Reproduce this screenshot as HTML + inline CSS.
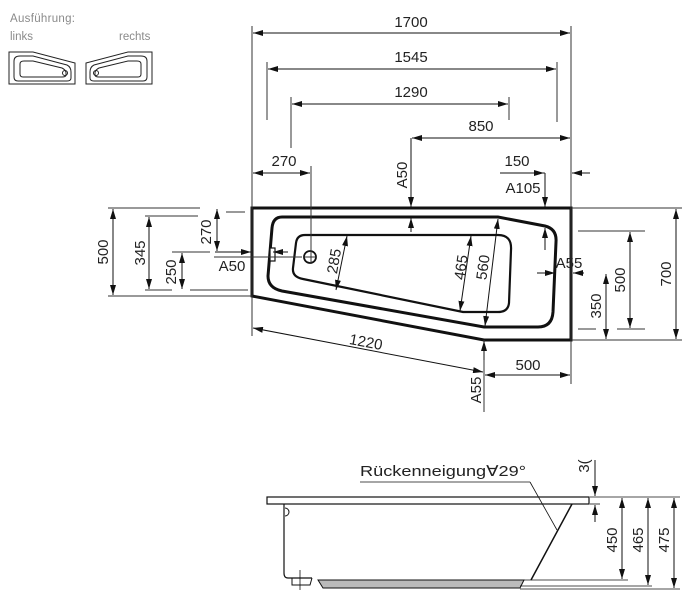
<!DOCTYPE html>
<html><head><meta charset="utf-8"><style>
html,body{margin:0;padding:0;background:#fff;width:694px;height:604px;overflow:hidden}
svg{display:block}
text{font-family:"Liberation Sans",sans-serif;fill:#222}
</style></head><body>
<svg width="694" height="604" viewBox="0 0 694 604" xmlns="http://www.w3.org/2000/svg">
<defs>
<marker id="a" viewBox="0 0 10 6" refX="10" refY="3" markerWidth="10" markerHeight="6" markerUnits="userSpaceOnUse" orient="auto-start-reverse"><path d="M0,0L10,3L0,6z" fill="#111"/></marker>
</defs>
<!-- legend -->
<g font-size="11.5">
<text x="10" y="22" style="fill:#8a8a8a" textLength="65">Ausführung:</text>
<text x="10" y="40" style="fill:#8a8a8a">links</text>
<text x="119" y="40" style="fill:#8a8a8a">rechts</text>
</g>
<g fill="none" stroke="#222" stroke-width="1">
<path d="M9,52H33L75,63V84H9Z"/>
<path d="M20,56H33L67,65Q71,67 71,72V78Q71,81 67,81H18Q14,81 14,77V61Q14,56 20,56Z"/>
<path d="M24,61H33L62,68Q66,70 66,73V75Q66,77 62,77H23Q20,77 20,74V64Q20,61 24,61Z"/>
<circle cx="65" cy="73" r="2.5"/>
<path d="M152,52H128L86,63V84H152Z"/>
<path d="M141,56H128L94,65Q90,67 90,72V78Q90,81 94,81H143Q147,81 147,77V61Q147,56 141,56Z"/>
<path d="M137,61H128L99,68Q95,70 95,73V75Q95,77 99,77H138Q141,77 141,74V64Q141,61 137,61Z"/>
<circle cx="96" cy="73" r="2.5"/>
</g>

<!-- top view shapes -->
<g fill="none" stroke="#111">
<path d="M252,208H571V340H484L252,296Z" stroke-width="3"/>
<path d="M282,217H498L545,226Q557,229 556,242L553,312Q552,327 538,327H484L282,291Q268,288 268,276L272,228Q273,217 282,217Z" stroke-width="3"/>
<path d="M305,235H498Q512,235 511,250L509,303Q508,312 498,312H463L303,279Q292,277 293,268L296,243Q297,235 305,235Z" stroke-width="2.2"/>
<circle cx="310" cy="257" r="6" stroke-width="1.8"/>
<rect x="270" y="248" width="5" height="13" stroke-width="1.2" fill="#fff"/>
</g>

<!-- thin lines -->
<g stroke="#333" stroke-width="1" fill="none">
<line x1="252" y1="26" x2="252" y2="336"/>
<line x1="571" y1="26" x2="571" y2="384"/>
<line x1="267" y1="62" x2="267" y2="120"/>
<line x1="557" y1="62" x2="557" y2="122"/>
<line x1="291" y1="97" x2="291" y2="148"/>
<line x1="509" y1="97" x2="509" y2="120"/>
<line x1="311" y1="166" x2="311" y2="264"/>
<line x1="304" y1="257" x2="317" y2="257"/>
<line x1="108" y1="208" x2="200" y2="208"/><line x1="226" y1="212" x2="245" y2="212"/>
<line x1="108" y1="296" x2="252" y2="296"/>
<line x1="145" y1="216" x2="198" y2="216"/>
<line x1="145" y1="290" x2="172" y2="290"/><line x1="190" y1="290" x2="248" y2="290"/>
<line x1="172" y1="252" x2="210" y2="252"/>
<line x1="214" y1="257" x2="302" y2="257"/>
<line x1="572" y1="208" x2="682" y2="208"/>
<line x1="572" y1="340" x2="682" y2="340"/>
<line x1="578" y1="231" x2="645" y2="231"/>
<line x1="578" y1="329" x2="596" y2="329"/><line x1="617" y1="329" x2="645" y2="329"/>
<line x1="484" y1="340" x2="484" y2="412"/>
<line x1="500" y1="173" x2="545" y2="173"/>
</g>
<g stroke="#111" stroke-width="1" fill="none" marker-start="url(#a)" marker-end="url(#a)">
<line x1="253" y1="33" x2="570" y2="33"/>
<line x1="268" y1="69" x2="556" y2="69"/>
<line x1="292" y1="104" x2="508" y2="104"/>
<line x1="412" y1="138" x2="570" y2="138"/>
<line x1="253" y1="173" x2="310" y2="173"/>
<line x1="113" y1="209" x2="113" y2="295"/>
<line x1="149" y1="217" x2="149" y2="289"/>
<line x1="217" y1="209" x2="217" y2="251"/>
<line x1="182" y1="253" x2="182" y2="289"/>
<line x1="676" y1="209" x2="676" y2="339"/>
<line x1="630" y1="232" x2="630" y2="328"/>
<line x1="606" y1="274" x2="606" y2="339"/>
<line x1="485" y1="375" x2="570" y2="375"/>
<line x1="253" y1="328" x2="483" y2="372"/>
<line x1="498" y1="219" x2="485" y2="326"/>
<line x1="471" y1="236" x2="460" y2="311"/>
<line x1="347" y1="236" x2="336" y2="290"/>
</g>
<g stroke="#111" stroke-width="1" fill="none" marker-end="url(#a)">
<line x1="411" y1="138" x2="411" y2="207"/>
<line x1="411" y1="232" x2="411" y2="218"/>
<line x1="545" y1="173" x2="545" y2="207"/>
<line x1="545" y1="250" x2="545" y2="228"/>
<line x1="500" y1="173" x2="544" y2="173"/>
<line x1="590" y1="173" x2="572" y2="173"/>
<line x1="537" y1="273" x2="555" y2="273"/>
<line x1="584" y1="273" x2="573" y2="273"/>
<line x1="215" y1="252" x2="251" y2="252"/>
<line x1="288" y1="252" x2="273" y2="252"/>
<line x1="484" y1="360" x2="484" y2="341"/>
</g>

<!-- labels -->
<g font-size="15">
<text x="411" y="27" text-anchor="middle">1700</text>
<text x="411" y="62" text-anchor="middle">1545</text>
<text x="411" y="97" text-anchor="middle">1290</text>
<text x="481" y="131" text-anchor="middle">850</text>
<text x="284" y="166" text-anchor="middle">270</text>
<text x="517" y="166" text-anchor="middle">150</text>
<text x="523" y="193" text-anchor="middle">A105</text>
<text x="232" y="271" text-anchor="middle">A50</text>
<text x="569" y="268" text-anchor="middle">A55</text>
<text x="528" y="370" text-anchor="middle">500</text>
<text transform="translate(407,175) rotate(-90)" text-anchor="middle">A50</text>
<text transform="translate(108,252) rotate(-90)" text-anchor="middle">500</text>
<text transform="translate(145,253) rotate(-90)" text-anchor="middle">345</text>
<text transform="translate(211,232) rotate(-90)" text-anchor="middle">270</text>
<text transform="translate(176,272) rotate(-90)" text-anchor="middle">250</text>
<text transform="translate(671,274) rotate(-90)" text-anchor="middle">700</text>
<text transform="translate(625,280) rotate(-90)" text-anchor="middle">500</text>
<text transform="translate(601,306) rotate(-90)" text-anchor="middle">350</text>
<text transform="translate(481,390) rotate(-90)" text-anchor="middle">A55</text>
<text transform="translate(365,347) rotate(10.7)" text-anchor="middle">1220</text>
<text transform="translate(339,262) rotate(-80)" text-anchor="middle">285</text>
<text transform="translate(466,268) rotate(-82)" text-anchor="middle">465</text>
<text transform="translate(488,268) rotate(-82)" text-anchor="middle">560</text>
</g>

<!-- side view -->
<g stroke="#111" fill="none">
<rect x="267" y="497" width="322" height="7" stroke-width="1.2"/>
<path d="M284,504V573Q284,578 288,578H312" stroke-width="1.2"/>
<path d="M285,508a3,3 0 0 1 0,8" stroke-width="1"/>
<path d="M572,504L531,580" stroke-width="1.5"/>
<path d="M318,580L323,588H520L524,580Z" fill="#bbb" stroke-width="1"/>
<path d="M292,578V585H310L312,578" stroke-width="1"/>
<line x1="300" y1="570" x2="300" y2="590" stroke-width="0.8"/>
<line x1="360" y1="482" x2="530" y2="482" stroke-width="0.8"/>
<line x1="530" y1="482" x2="557" y2="530" stroke-width="0.8"/>
<line x1="524" y1="580" x2="628" y2="580" stroke-width="0.8"/>
<line x1="520" y1="586" x2="652" y2="586" stroke-width="0.8"/>
<line x1="520" y1="589" x2="680" y2="589" stroke-width="0.8"/>
<line x1="590" y1="497" x2="680" y2="497" stroke-width="0.8"/>
<line x1="590" y1="504" x2="600" y2="504" stroke-width="0.8"/>
</g>
<g stroke="#111" stroke-width="1" marker-start="url(#a)" marker-end="url(#a)">
<line x1="622" y1="498" x2="622" y2="579"/>
<line x1="648" y1="498" x2="648" y2="585"/>
<line x1="674" y1="498" x2="674" y2="588"/>
</g>
<g stroke="#111" stroke-width="1" marker-end="url(#a)">
<line x1="595" y1="460" x2="595" y2="496"/>
<line x1="595" y1="522" x2="595" y2="505"/>
</g>
<g font-size="15">
<text x="360" y="476" textLength="166" lengthAdjust="spacingAndGlyphs">Rückenneigung∀29°</text>
<text transform="translate(589,466) rotate(-90)" text-anchor="middle">3(</text>
<text transform="translate(617,540) rotate(-90)" text-anchor="middle">450</text>
<text transform="translate(643,540) rotate(-90)" text-anchor="middle">465</text>
<text transform="translate(669,540) rotate(-90)" text-anchor="middle">475</text>
</g>
</svg>
</body></html>
